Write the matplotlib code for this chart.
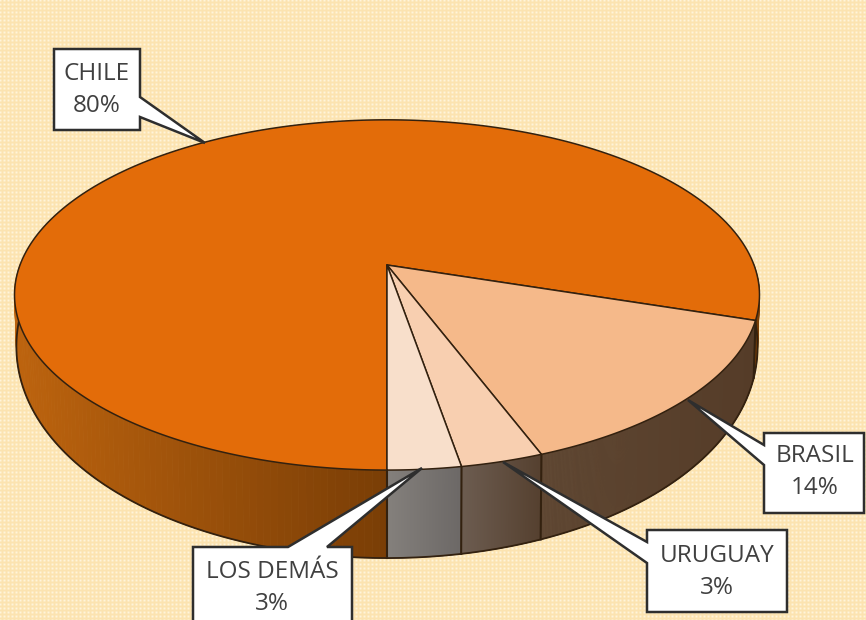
import numpy as np
import matplotlib
matplotlib.use('Agg')
import matplotlib.pyplot as plt
from matplotlib.colors import to_rgb

# data
countries = ['CHILE', 'BRASIL', 'URUGUAY', 'LOS DEMÁS']
shares = [80.0, 14.25, 3.05, 2.7]

# style per slice
top_colors = ['#E36C09', '#F5B98A', '#F8CFB0', '#F8DFCB']
side_left = ['#BC630E', '#5E4632', '#6C5C50', '#84807C']
side_right = ['#7A3E06', '#553C28', '#55402F', '#6C6866']

# box: x0, x1, y0, y1 / pointer: base start, base end, tip
boxes = [(54, 140, 49, 130), (764, 864, 433, 513), (647, 787, 530, 612), (193, 352, 547, 640)]
pointers = [[(140, 97), (205, 143), (140, 117)],
            [(764, 445), (688, 400), (764, 465)],
            [(647, 542), (503, 462), (647, 563)],
            [(288, 547), (422, 468), (327, 547)]]
text_pos = [(97, 90), (815, 472), (717, 572), (272, 588)]

CX, CY = 387, 265
RX, RY = 367, 170
K = 0.171
DARK = '#33210f'


def top_point(f):
    a = 2 * np.pi * f
    u, v = -np.sin(a), np.cos(a)
    s = 1 - K * v
    return CX + RX * u / s, CY + RY * v / s


def bottom_point(f):
    a = 2 * np.pi * f
    v = np.cos(a)
    x, y = top_point(f)
    return CX + (x - CX) * 0.995, y + 44 + 44 * v


fig = plt.figure(figsize=(8.66, 6.2), dpi=100)
ax = fig.add_axes([0, 0, 1, 1])
ax.set_xlim(0, 866)
ax.set_ylim(620, 0)
ax.axis('off')

# dotted paper background
yy, xx = np.mgrid[0:620, 0:866]
dots = ((np.cos(xx * np.pi / 2) + 1) * (np.cos(yy * np.pi / 2) + 1) / 4)[..., None]
base = np.array(to_rgb('#FCE3B0'))
light = np.array(to_rgb('#FFF4DA'))
ax.imshow(base + (light - base) * dots, extent=(0, 866, 620, 0), aspect='auto', zorder=0)

edges = np.cumsum([0] + shares) / sum(shares)

# front side of the cake, only the part facing us
for i in range(len(shares)):
    fs = np.linspace(edges[i], edges[i + 1], 300)
    fs = fs[np.cos(2 * np.pi * fs) >= -0.02]
    if len(fs) < 2:
        continue
    front = fs[fs < 0.5] if i == 0 else fs
    x0 = top_point(front[0])[0]
    x1 = top_point(front[-1])[0]
    left, right = min(x0, x1), max(x0, x1)
    c0, c1 = np.array(to_rgb(side_left[i])), np.array(to_rgb(side_right[i]))
    for f0, f1 in zip(fs[:-1], fs[1:]):
        p = [top_point(f0), top_point(f1), bottom_point(f1), bottom_point(f0)]
        t = np.clip((top_point(f0)[0] - left) / max(right - left, 1), 0, 1)
        col = c0 + (c1 - c0) * t
        ax.fill(*zip(*p), color=col, lw=0.6, zorder=1)

# outline of the side
fs = np.linspace(0.25, -0.25, 400)
rim = [bottom_point(f) for f in fs]
ax.plot(*zip(*rim), color=DARK, lw=1.3, zorder=2)
for f in [edges[1], edges[2], edges[3], 0]:
    if np.cos(2 * np.pi * f) > 0:
        ax.plot(*zip(top_point(f), bottom_point(f)), color=DARK, lw=1.5, zorder=2)

# top of the cake
for i in range(len(shares)):
    fs = np.linspace(edges[i], edges[i + 1], 400)
    pts = [(CX, CY)] + [top_point(f) for f in fs]
    ax.fill(*zip(*pts), facecolor=top_colors[i], edgecolor=DARK, lw=1.1, joinstyle='round', zorder=3)

# callouts
for i, name in enumerate(countries):
    x0, x1, y0, y1 = boxes[i]
    a, tip, b = pointers[i]
    if a[0] == x0:      # pointer on the left edge
        path = [(x0, y0), a, tip, b, (x0, y1), (x1, y1), (x1, y0)]
    elif a[0] == x1:    # pointer on the right edge
        path = [(x0, y0), (x1, y0), a, tip, b, (x1, y1), (x0, y1)]
    else:               # pointer on the top edge
        path = [(x0, y0), a, tip, b, (x1, y0), (x1, y1), (x0, y1)]
    ax.fill(*zip(*path), facecolor='white', edgecolor='#2e2e2e', lw=1.8, joinstyle='miter', zorder=4)
    ax.text(text_pos[i][0], text_pos[i][1], '%s\n%d%%' % (name, round(shares[i])), ha='center', va='center',
            fontsize=17.5, family='Open Sans', color='#404040', linespacing=1.45, zorder=5)

fig.savefig('out.png', dpi=100)
